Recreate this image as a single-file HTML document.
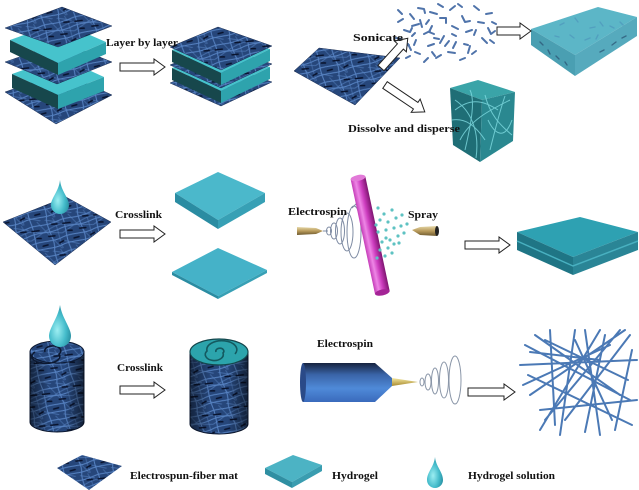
<!DOCTYPE html>
<html><head><meta charset="utf-8"><style>
html,body{margin:0;padding:0;background:#fff;}
svg{display:block;}
text{font-family:"Liberation Serif",serif;font-weight:bold;font-size:11px;fill:#111;}
</style></head><body>
<svg width="639" height="490" viewBox="0 0 639 490" xmlns="http://www.w3.org/2000/svg">
<defs>
<pattern id="mat" width="32" height="32" patternUnits="userSpaceOnUse" patternTransform="rotate(-15)">
<rect width="32" height="32" fill="#26467a"/>
<g stroke="#5f8ed0" stroke-width="1" fill="none" opacity=".85">
<path d="M0 4 C8 2 16 7 32 4"/><path d="M0 12 C10 10 20 15 32 12"/>
<path d="M0 21 C9 19 22 24 32 21"/><path d="M0 28 C12 27 20 31 32 28"/>
<path d="M4 0 C6 10 2 20 4 32"/><path d="M20 0 C18 12 24 22 20 32"/>
<path d="M0 8 L32 17" opacity=".6"/><path d="M10 0 L28 32" opacity=".5"/>
<path d="M0 17 C10 14 18 9 32 8" opacity=".6"/><path d="M26 0 C30 10 27 20 29 32" opacity=".5"/>
<path d="M0 25 L14 32 M18 0 L32 6" opacity=".6"/>
</g>
<g stroke="#08122c" stroke-width="1.6" stroke-linecap="round">
<path d="M3 8 l7 1 M18 17 l6 1 M10 25 l5 0 M24 6 l5 1 M27 26 l4 -1 M6 16 l4 1"/>
</g>
</pattern>
<linearGradient id="cylsh" x1="0" x2="1" y1="0" y2="0">
<stop offset="0" stop-color="#000" stop-opacity=".5"/><stop offset=".35" stop-color="#000" stop-opacity="0"/>
<stop offset=".65" stop-color="#000" stop-opacity="0"/><stop offset="1" stop-color="#000" stop-opacity=".55"/>
</linearGradient>
<radialGradient id="drop" cx=".38" cy=".6" r=".7">
<stop offset="0" stop-color="#9ceef2"/><stop offset=".55" stop-color="#45bccb"/><stop offset="1" stop-color="#23889a"/>
</radialGradient>
<linearGradient id="rodg" x1="0" x2="1" y1="0" y2="0">
<stop offset="0" stop-color="#c53cb8"/><stop offset=".3" stop-color="#ee86e6"/><stop offset=".6" stop-color="#cc3cbe"/><stop offset="1" stop-color="#7e1470"/>
</linearGradient>
<linearGradient id="syr" x1="0" x2="0" y1="0" y2="1">
<stop offset="0" stop-color="#17233f"/><stop offset=".3" stop-color="#3a64a8"/><stop offset=".65" stop-color="#4f8ad8"/><stop offset="1" stop-color="#3a6abc"/>
</linearGradient>
<linearGradient id="gold" x1="0" x2="0" y1="0" y2="1">
<stop offset="0" stop-color="#e6d8a8"/><stop offset=".5" stop-color="#b89a5a"/><stop offset="1" stop-color="#6e5a30"/>
</linearGradient>
<linearGradient id="needle" x1="0" x2="0" y1="0" y2="1">
<stop offset="0" stop-color="#f4e8a0"/><stop offset="1" stop-color="#a88a30"/>
</linearGradient>
</defs>

<g stroke="#1a2c50" stroke-width=".5">
<polygon points="5,92 62,72 112,95 56,124" fill="url(#mat)"/>
<polygon points="12,74 60,57 104,77 58,95" fill="#46c3cc" stroke="none"/>
<polygon points="12,74 58,95 58,109 12,88" fill="#17474c" stroke="none"/>
<polygon points="58,95 104,77 104,91 58,109" fill="#2ea3ad" stroke="none"/>
<polygon points="5,62 62,42 112,62 57,84" fill="url(#mat)"/>
<polygon points="10,40 60,22 106,42 58,63" fill="#46c3cc" stroke="none"/>
<polygon points="10,40 58,63 58,75 10,52" fill="#17474c" stroke="none"/>
<polygon points="58,63 106,42 106,54 58,75" fill="#2ea3ad" stroke="none"/>
<polygon points="5,28 62,7 112,26 58,47" fill="url(#mat)"/>

<polygon points="170,83 218,63 272,82 221,106" fill="url(#mat)"/>
<polygon points="172,68 218,50 270,67 221,91" fill="#46c3cc" stroke="none"/>
<polygon points="172,68 221,91 221,103 172,80" fill="#17474c" stroke="none"/>
<polygon points="221,91 270,67 270,79 221,103" fill="#2ea3ad" stroke="none"/>
<polygon points="170,65 218,45 272,64 221,88" fill="url(#mat)"/>
<polygon points="172,50 218,32 270,49 221,73" fill="#46c3cc" stroke="none"/>
<polygon points="172,50 221,73 221,85 172,62" fill="#17474c" stroke="none"/>
<polygon points="221,73 270,49 270,61 221,85" fill="#2ea3ad" stroke="none"/>
<polygon points="170,47 218,27 272,46 221,70" fill="url(#mat)"/>

<polygon points="294,71 319,48 400,58 355,105" fill="url(#mat)"/>
</g>

<g stroke="#4f73aa" stroke-width="2" fill="none" stroke-linecap="round" stroke-linejoin="round">
<path d="M398 22 l5 -3 M404 30 l6 2 l2 -4 M396 38 l5 1 M410 14 l4 5 M412 26 l7 -2 M408 44 l3 6 M418 8 l6 1 l1 4 M420 20 l2 7 M424 34 l6 -3 M415 52 l5 2 M430 12 l7 2 M432 26 l-3 6 l5 2 M428 46 l6 -2 M438 4 l5 3 M440 18 l6 0 l0 5 M444 36 l-4 7 M436 58 l5 -3 M450 10 l5 -4 M452 26 l6 3 M456 42 l-3 6 M448 52 l7 1 M462 16 l3 6 l5 -1 M466 32 l6 -2 M470 46 l-2 7 M474 6 l5 4 M478 22 l6 1 M482 38 l5 5 M486 14 l6 -1 M488 28 l3 6 l4 -3 M460 60 l5 -2 M424 62 l4 -4 M403 46 l6 -1 M398 10 l4 4 M492 22 l4 2 M445 46 l4 -5 M458 4 l4 3 M416 40 l-2 5 M434 38 l5 1 M472 54 l4 -3 M490 40 l4 3 M426 24 l3 -4 M464 44 l4 1 M412 36 l3 -3 M406 58 l4 -2 M432 52 l3 4 M476 30 l-2 5 M452 34 l4 2"/>
</g>

<polygon points="531,29 598,7 637,17 575,55" fill="#5cb6c7"/>
<polygon points="531,29 575,55 575,76 531,45" fill="#4a9fb2"/>
<polygon points="575,55 637,17 637,36 575,76" fill="#56aabd"/>
<g stroke="#4a8cb8" stroke-width="1.4" fill="none" opacity=".55" stroke-linecap="round">
<path d="M560 25 l4 -2 M575 18 l3 4 M590 28 l5 -1 M570 35 l4 3 M600 22 l3 4 M585 40 l5 -2 M610 26 l4 2 M598 35 l-2 4 M620 22 l3 3 M555 36 l4 1"/>
</g>
<g stroke="#2a5070" stroke-width="1.4" fill="none" opacity=".7" stroke-linecap="round">
<path d="M540 42 l3 3 M548 50 l2 4 M556 56 l3 3 M565 62 l2 3 M600 52 l4 -2 M612 45 l4 -3 M622 38 l4 -2"/>
</g>

<polygon points="450,88 478,80 515,92 482,100" fill="#3aa4a8"/>
<polygon points="450,88 482,100 480,162 453,145" fill="#1f6e76"/>
<polygon points="482,100 515,92 513,141 480,162" fill="#2a8890"/>
<g stroke="#80dce2" stroke-width="1" fill="none" opacity=".8">
<path d="M455 100 C470 110 480 130 476 158"/><path d="M460 140 C470 120 490 110 510 100"/>
<path d="M485 95 C490 115 500 125 512 135"/><path d="M452 120 C465 118 475 125 485 140"/>
<path d="M470 90 C475 100 472 120 465 150"/><path d="M490 150 C495 130 500 110 505 96"/>
<path d="M455 110 C468 100 480 98 498 110"/><path d="M488 120 C495 135 505 140 512 120"/>
</g>

<polygon points="3,222 66,197 111,222 55,265" fill="url(#mat)" stroke="#1a2c50" stroke-width=".5"/>
<path d="M60 180 C61 191 69 198 69 205 A9 9 0 0 1 51 205 C51 198 59 191 60 180 Z" fill="url(#drop)"/>

<polygon points="175,193 218,172 265,193 218,220" fill="#4bb8cb"/>
<polygon points="175,193 218,220 218,229 175,202" fill="#2a8ca2"/>
<polygon points="218,220 265,193 265,202 218,229" fill="#37a0b5"/>
<polygon points="172,272 218,248 267,270 218,296" fill="#45b2c8"/>
<polygon points="172,272 218,296 218,299 172,275" fill="#2a8ca2"/>
<polygon points="218,296 267,270 267,273 218,299" fill="#37a0b5"/>

<polygon points="297,227 316,228 323,231 316,234 297,235" fill="url(#gold)"/>
<g stroke="#7f8ca4" stroke-width="1" fill="none">
<path d="M323 231 L328 231"/>
<ellipse cx="329" cy="231" rx="2.5" ry="4"/>
<ellipse cx="334" cy="231" rx="3.5" ry="8"/>
<ellipse cx="340" cy="231" rx="4.5" ry="13"/>
<ellipse cx="347" cy="232" rx="6" ry="19"/>
<ellipse cx="354" cy="232" rx="7" ry="26"/>
<path d="M352 208 L360 200"/>
</g>
<g transform="translate(358,178) rotate(-12)">
<rect x="-7.5" y="0" width="15" height="117" fill="url(#rodg)"/>
<ellipse cx="0" cy="117" rx="7.5" ry="3" fill="#a42496"/>
<ellipse cx="0" cy="0" rx="7.5" ry="3" fill="#e27ad8"/>
</g>
<g fill="#5ec2c2">
<circle cx="378" cy="208" r="1.6"/><circle cx="384" cy="214" r="1.6"/><circle cx="392" cy="210" r="1.6"/><circle cx="380" cy="220" r="1.6"/><circle cx="388" cy="222" r="1.6"/><circle cx="396" cy="218" r="1.6"/><circle cx="402" cy="215" r="1.6"/><circle cx="378" cy="232" r="1.6"/><circle cx="386" cy="230" r="1.6"/><circle cx="394" cy="228" r="1.6"/><circle cx="401" cy="226" r="1.6"/><circle cx="407" cy="224" r="1.6"/><circle cx="382" cy="242" r="1.6"/><circle cx="390" cy="240" r="1.6"/><circle cx="398" cy="236" r="1.6"/><circle cx="404" cy="233" r="1.6"/><circle cx="380" cy="250" r="1.6"/><circle cx="388" cy="248" r="1.6"/><circle cx="394" cy="244" r="1.6"/><circle cx="377" cy="258" r="1.6"/><circle cx="385" cy="256" r="1.6"/><circle cx="376" cy="225" r="1.6"/><circle cx="386" cy="238" r="1.6"/><circle cx="399" cy="243" r="1.6"/><circle cx="392" cy="253" r="1.6"/>
</g>
<polygon points="412,230 420,227 437,226 437,236 420,235" fill="url(#gold)"/>
<ellipse cx="437" cy="231" rx="2" ry="5" fill="#222"/>

<polygon points="517,232 580,217 638,232 573,257" fill="#2ea1b2"/>
<polygon points="517,232 573,257 573,275 517,250" fill="#1f7585"/>
<polygon points="573,257 638,232 638,250 573,275" fill="#2a8596"/>
<path d="M517 241 L573 266 L638 241" stroke="#48b0c0" stroke-width="1.5" fill="none"/>

<path d="M30 352 L30 422 A27 10 0 0 0 84 422 L84 352 Z" fill="url(#mat)" stroke="#0c1830" stroke-width="1"/>
<path d="M30 352 L30 422 A27 10 0 0 0 84 422 L84 352 Z" fill="url(#cylsh)"/>
<ellipse cx="57" cy="352" rx="27" ry="11" fill="url(#mat)" stroke="#0c1830" stroke-width="1"/>
<path d="M45 352 a8 5 0 1 1 14 2 a14 7 0 1 1 -24 -2" stroke="#0c1830" stroke-width="1.5" fill="none"/>
<path d="M60 305 C62 318 71 328 71 336 A11 11 0 0 1 49 336 C49 328 58 318 60 305 Z" fill="url(#drop)"/>

<path d="M190 352 L190 424 A29 10 0 0 0 248 424 L248 352 Z" fill="url(#mat)" stroke="#0c1830" stroke-width="1"/>
<path d="M190 352 L190 424 A29 10 0 0 0 248 424 L248 352 Z" fill="url(#cylsh)"/>
<ellipse cx="219" cy="352" rx="29" ry="13" fill="#2ca4ac" stroke="#14464c" stroke-width="1.2"/>
<path d="M216 352 a4 3 0 1 1 7 1 a9 6 0 1 1 -16 -2 a15 9 0 1 1 28 3" stroke="#145a60" stroke-width="1.6" fill="none"/>

<rect x="303" y="363" width="72" height="39" fill="url(#syr)"/>
<ellipse cx="303" cy="382.5" rx="3" ry="19.5" fill="#2a4a88"/>
<polygon points="375,363 375,402 392,386 392,378" fill="url(#syr)"/>
<polygon points="392,378 418,382 392,386" fill="url(#needle)"/>
<g stroke="#8a96a8" stroke-width="1" fill="none">
<ellipse cx="422" cy="382" rx="2" ry="4"/>
<ellipse cx="428" cy="382" rx="3" ry="8"/>
<ellipse cx="435" cy="381" rx="3.5" ry="13"/>
<ellipse cx="444" cy="380" rx="4.5" ry="18"/>
<ellipse cx="455" cy="380" rx="6" ry="24"/>
</g>

<g stroke="#4b79b5" stroke-width="2" stroke-linecap="round">
<path d="M525 345 L630 400 M520 365 L637 360 M530 395 L625 330 M540 430 L600 330 M560 435 L575 330 M585 330 L600 435 M605 335 L585 432 M620 330 L545 420 M528 375 L632 425 M535 335 L620 395 M540 410 L637 400 M550 330 L555 425 M615 430 L632 350 M523 385 L610 345 M545 340 L628 380 M565 420 L630 335 M530 352 L600 360 M575 340 L612 420"/>
</g>

<g fill="#fff" stroke="#222" stroke-width="1">
<polygon points="120,63 154,63 154,59 165,67 154,75 154,71 120,71"/>
<polygon points="0,-4 29,-4 29,-8 40,0 29,8 29,4 0,4" transform="translate(381,68) rotate(-48)"/>
<polygon points="497,27 520,27 520,23 531,31 520,39 520,35 497,35"/>
<polygon points="0,-4 37,-4 37,-8 48,0 37,8 37,4 0,4" transform="translate(385,85) rotate(34)"/>
<polygon points="120,230 154,230 154,226 165,234 154,242 154,238 120,238"/>
<polygon points="465,241 499,241 499,237 510,245 499,253 499,249 465,249"/>
<polygon points="120,386 154,386 154,382 165,390 154,398 154,394 120,394"/>
<polygon points="468,388 504,388 504,384 515,392 504,400 504,396 468,396"/>
</g>

<polygon points="57,468 82,455 122,466 89,490" fill="url(#mat)"/>
<polygon points="265,468 293,455 322,465 292,482" fill="#4cb3c4"/>
<polygon points="265,468 292,482 292,488 265,474" fill="#2f8fa2"/>
<polygon points="292,482 322,465 322,471 292,488" fill="#3a9db0"/>
<path d="M435 457 C436 467 443 472 443 480 A8 8 0 0 1 427 480 C427 472 434 467 435 457 Z" fill="url(#drop)"/>

<text x="106" y="46" textLength="72" lengthAdjust="spacingAndGlyphs">Layer by layer</text>
<text x="353" y="41" textLength="50" lengthAdjust="spacingAndGlyphs">Sonicate</text>
<text x="348" y="132" textLength="112" lengthAdjust="spacingAndGlyphs">Dissolve and disperse</text>
<text x="115" y="218" textLength="47" lengthAdjust="spacingAndGlyphs">Crosslink</text>
<text x="288" y="215" textLength="59" lengthAdjust="spacingAndGlyphs">Electrospin</text>
<text x="408" y="218" textLength="30" lengthAdjust="spacingAndGlyphs">Spray</text>
<text x="117" y="371" textLength="46" lengthAdjust="spacingAndGlyphs">Crosslink</text>
<text x="317" y="347" textLength="56" lengthAdjust="spacingAndGlyphs">Electrospin</text>
<text x="130" y="479" textLength="108" lengthAdjust="spacingAndGlyphs">Electrospun-fiber mat</text>
<text x="332" y="479" textLength="46" lengthAdjust="spacingAndGlyphs">Hydrogel</text>
<text x="468" y="479" textLength="87" lengthAdjust="spacingAndGlyphs">Hydrogel solution</text>
</svg>
</body></html>
